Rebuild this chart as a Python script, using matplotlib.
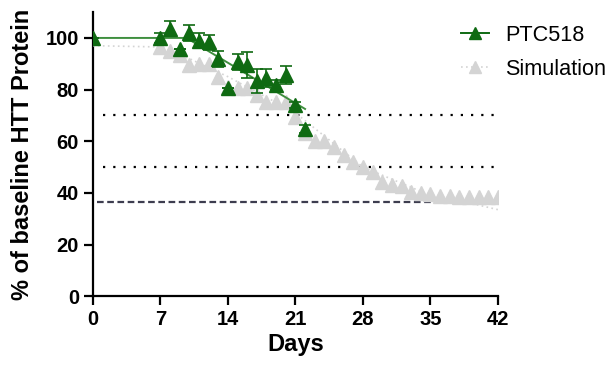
import matplotlib
matplotlib.use("Agg")
import matplotlib.pyplot as plt
from matplotlib.lines import Line2D

plt.rcParams['font.family'] = ['Liberation Sans', 'DejaVu Sans']

# --- Data ---
ptc_days = [0, 7, 8, 9, 10, 11, 12, 13, 14, 15, 16, 17, 18, 19, 20, 21, 22]
ptc_vals = [100, 100, 103.6, 95.8, 102, 99, 98.3, 91.8, 80.5, 90.6, 89.6, 83.3, 84.6, 81.8, 85.7, 74, 64.6]
ptc_err = [0, 2, 3, 0, 3, 3, 3, 3, 0, 3, 5, 4.5, 3.5, 2, 3.5, 1, 1.5]

fit_days = [0, 9.7, 22]
fit_vals = [100, 100, 72.5]

sim_days = [7, 8, 9, 10, 11, 12, 13, 14, 15, 16, 17, 18, 19, 20, 21, 22, 23, 24, 25, 26, 27,
            28, 29, 30, 31, 32, 33, 34, 35, 36, 37, 38, 39, 40, 41, 42]
sim_vals = [96.4, 94.8, 93.5, 89.6, 89.8, 89.8, 85, 81, 80.5, 80.5, 77.9, 75, 75, 75, 69.4, 63,
            59.9, 59.9, 57.7, 54.7, 51.8, 49.9, 47.9, 44.3, 43, 42.5, 40.4, 40.1, 39.5, 38.8,
            38.8, 38.5, 38.5, 38.5, 38.5, 38.5]

sim_line_days = [0, 7, 10, 14, 21, 28, 35, 38, 42]
sim_line_vals = [97, 96.5, 92, 85, 71, 50, 39, 37, 33.5]

ref_dotted = [70, 50]
ref_dashed = 36.5

GREEN = '#0f6a12'
FIT_GREEN = '#3f8f3f'
GRAY = '#d4d4d4'

fig = plt.figure(figsize=(6.11, 3.67), dpi=100)
ax = fig.add_axes([0.152, 0.193, 0.663, 0.774])

for y in ref_dotted:
    ax.plot([1, 42], [y, y], color='black', lw=1.6, linestyle=(0, (1, 3.6)), zorder=2)
ax.plot([0.4, 42], [ref_dashed, ref_dashed], color='#3d3d4f', lw=1.6,
        linestyle=(0, (3, 1.6)), zorder=2)

ax.plot(sim_line_days, sim_line_vals, color=GRAY, lw=1.2, linestyle=(0, (1, 2)), zorder=3)
ax.plot(sim_days, sim_vals, linestyle='none', marker='^', markersize=10,
        color=GRAY, zorder=3)

ax.plot(fit_days, fit_vals, color=FIT_GREEN, lw=1.4, zorder=4)
ax.errorbar(ptc_days, ptc_vals, yerr=ptc_err, fmt='^', markersize=10, color=GREEN,
            ecolor=GREEN, elinewidth=1.2, capsize=4.5, capthick=1.2, zorder=5)

ax.set_xlim(0, 42)
ax.set_ylim(0, 110)
ax.set_xticks([0, 7, 14, 21, 28, 35, 42])
ax.set_yticks([0, 20, 40, 60, 80, 100])
for s in ['top', 'right']:
    ax.spines[s].set_visible(False)
for s in ['left', 'bottom']:
    ax.spines[s].set_linewidth(1.6)
ax.tick_params(width=1.6, length=6.5, pad=3.5, labelsize=14.5)
for lbl in ax.get_xticklabels() + ax.get_yticklabels():
    lbl.set_fontweight('bold')
ax.set_xlabel('Days', fontsize=17, fontweight='bold', labelpad=3)
ax.set_ylabel('% of baseline HTT Protein', fontsize=17, fontweight='bold', labelpad=8)

handles = [
    Line2D([], [], color=GREEN, lw=1.4, marker='^', markersize=9),
    Line2D([], [], color=GRAY, lw=1.2, linestyle=(0, (1, 2)), marker='^', markersize=9),
]
fig.legend(handles, ['PTC518', 'Simulation'], loc='upper left',
           bbox_to_anchor=(0.7226, 0.986), frameon=False, fontsize=15.6,
           handlelength=1.3, labelspacing=0.62, handletextpad=0.72)

fig.savefig('out.png', dpi=100)
